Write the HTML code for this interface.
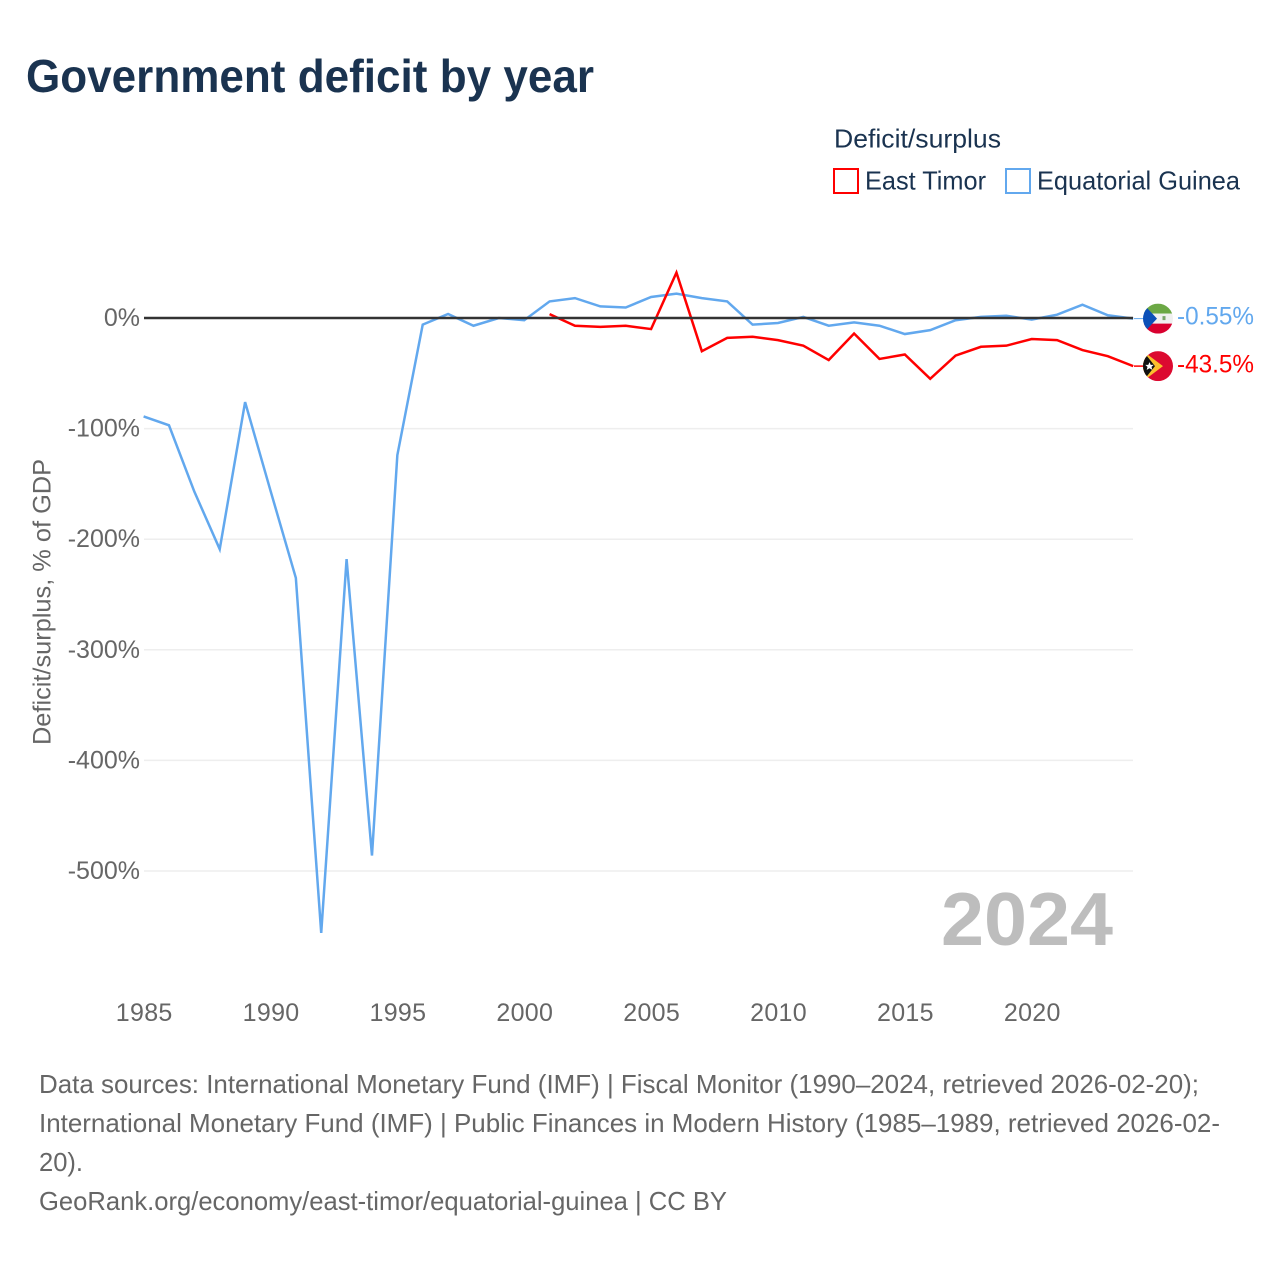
<!DOCTYPE html>
<html lang="en">
<head>
<meta charset="utf-8">
<title>Government deficit by year</title>
<style>
html,body{margin:0;padding:0;background:#fff}
svg{display:block}
text{font-family:"Liberation Sans",sans-serif}
</style>
</head>
<body>
<svg id="chart" xmlns="http://www.w3.org/2000/svg" width="1280" height="1280" viewBox="0 0 1280 1280">
  <defs>
    <clipPath id="flag-clip-gq"><circle cx="0" cy="0" r="15"/></clipPath>
    <clipPath id="flag-clip-tl"><circle cx="0" cy="0" r="15"/></clipPath>
  </defs>
  <rect x="0" y="0" width="1280" height="1280" fill="#fff"/>
  <text x="26" y="92" font-size="46" font-weight="700" fill="#1a3350" textLength="568" lengthAdjust="spacingAndGlyphs">Government deficit by year</text>

  <g font-size="26" fill="#1a3350">
    <text x="834" y="147.5" textLength="167" lengthAdjust="spacingAndGlyphs">Deficit/surplus</text>
    <g>
      <rect x="834" y="169" width="24" height="24" fill="#fff" stroke="#ff0000" stroke-width="2"/>
      <text x="865" y="189.5" textLength="121" lengthAdjust="spacingAndGlyphs">East Timor</text>
    </g>
    <g>
      <rect x="1006" y="169" width="24" height="24" fill="#fff" stroke="#62a8ee" stroke-width="2"/>
      <text x="1037" y="189.5" textLength="203" lengthAdjust="spacingAndGlyphs">Equatorial Guinea</text>
    </g>
  </g>

  <text transform="translate(50.5,602) rotate(-90)" text-anchor="middle" font-size="25" fill="#666" textLength="286" lengthAdjust="spacingAndGlyphs">Deficit/surplus, % of GDP</text>

  <g id="grid"></g>
  <g id="yticks"></g>
  <g id="xticks"></g>

  <text x="941" y="945" font-size="75" font-weight="700" fill="#bdbdbd" textLength="172" lengthAdjust="spacingAndGlyphs">2024</text>

  <g id="series"></g>
  <g id="zero"></g>
  <g id="ends"></g>

  <g font-size="26" fill="#666">
    <text x="39" y="1093" textLength="1160" lengthAdjust="spacingAndGlyphs">Data sources: International Monetary Fund (IMF) | Fiscal Monitor (1990–2024, retrieved 2026-02-20);</text>
    <text x="39" y="1132" textLength="1181" lengthAdjust="spacingAndGlyphs">International Monetary Fund (IMF) | Public Finances in Modern History (1985–1989, retrieved 2026-02-</text>
    <text x="39" y="1171" textLength="44" lengthAdjust="spacingAndGlyphs">20).</text>
    <text x="39" y="1210" textLength="688" lengthAdjust="spacingAndGlyphs">GeoRank.org/economy/east-timor/equatorial-guinea | CC BY</text>
  </g>
</svg>
<script>
var years = [1985,1986,1987,1988,1989,1990,1991,1992,1993,1994,1995,1996,1997,1998,1999,2000,2001,2002,2003,2004,2005,2006,2007,2008,2009,2010,2011,2012,2013,2014,2015,2016,2017,2018,2019,2020,2021,2022,2023,2024];
var equatorialGuinea = [-89,-97,-157,-209,-76,-156,-235,-556,-218,-486,-124,-6,3.6,-7,0,-2,15,18,10.5,9.5,19,22,18,15,-6,-4.5,1,-7,-4,-7,-14.5,-11,-2,1,2,-1.5,3,12,2.5,-0.55];
var eastTimorYears = [2001,2002,2003,2004,2005,2006,2007,2008,2009,2010,2011,2012,2013,2014,2015,2016,2017,2018,2019,2020,2021,2022,2023,2024];
var eastTimor = [3.5,-7,-8,-7,-10,41,-30,-18,-17,-20,-25,-38,-14,-37,-33,-55,-34,-26,-25,-19,-20,-29,-34.5,-43.5];
var yTickValues = [0,-100,-200,-300,-400,-500];
var yTickLabels = ["0%","-100%","-200%","-300%","-400%","-500%"];
var xTickValues = [1985,1990,1995,2000,2005,2010,2015,2020];
var guineaLabel = "-0.55%";
var timorLabel = "-43.5%";

var NS = "http://www.w3.org/2000/svg";
function xScale(year){ return 143.6 + (year - 1985) * (1133.2 - 143.6) / 39; }
function yScale(value){ return 318 - value * 1.106; }
function make(tag, attrs, parent){
  var el = document.createElementNS(NS, tag);
  for (var k in attrs) el.setAttribute(k, attrs[k]);
  parent.appendChild(el);
  return el;
}
function pointsFor(xs, ys){
  return xs.map(function(d, i){ return xScale(d).toFixed(2) + "," + yScale(ys[i]).toFixed(2); }).join(" ");
}

var grid = document.getElementById("grid");
var yticks = document.getElementById("yticks");
yTickValues.forEach(function(v, i){
  if (v !== 0) {
    var gl = make("line", {x1:144, x2:1133, y1:yScale(v), y2:yScale(v), stroke:"#eeeeee", "stroke-width":1.5}, grid);
    
    
  }
  var t = make("text", {x:140, y:yScale(v) + 8, "text-anchor":"end", "font-size":25, fill:"#666"}, yticks);
  
  
  t.textContent = yTickLabels[i];
});

var xticks = document.getElementById("xticks");
xTickValues.forEach(function(v){
  var t = make("text", {x:xScale(v) + 0.6, y:1021, "text-anchor":"middle", "font-size":25, "letter-spacing":"0.3", fill:"#666"}, xticks);
  
  
  t.textContent = v;
});

var series = document.getElementById("series");
var guineaLine = make("polyline", {points:pointsFor(years, equatorialGuinea), fill:"none", stroke:"#62a8ee", "stroke-width":2.5, "stroke-linejoin":"miter"}, series);


var timorLine = make("polyline", {points:pointsFor(eastTimorYears, eastTimor), fill:"none", stroke:"#ff0000", "stroke-width":2.5, "stroke-linejoin":"miter"}, series);



var zero = document.getElementById("zero");
var zeroLine = make("line", {x1:144, x2:1133, y1:yScale(0), y2:yScale(0), stroke:"#333333", "stroke-width":2.5}, zero);



var ends = document.getElementById("ends");
var gy = yScale(equatorialGuinea[equatorialGuinea.length - 1]);
var ty = yScale(eastTimor[eastTimor.length - 1]);

var gc = make("line", {x1:1134, x2:1143, y1:gy, y2:gy, stroke:"#62a8ee", "stroke-width":1}, ends);


var tc = make("line", {x1:1134, x2:1143, y1:ty, y2:ty, stroke:"#ff0000", "stroke-width":1.5}, ends);



var gFlag = make("g", {transform:"translate(1158," + gy + ")", "clip-path":"url(#flag-clip-gq)"}, ends);


make("rect", {x:-15, y:-15, width:30, height:10, fill:"#6ca845"}, gFlag);
make("rect", {x:-15, y:-5, width:30, height:10, fill:"#f0f0f0"}, gFlag);
make("rect", {x:-15, y:5, width:30, height:10, fill:"#d9002f"}, gFlag);
make("polygon", {points:"-15,-15 -15,15 -1,0", fill:"#0b50b8"}, gFlag);
make("rect", {x:4.5, y:-2.5, width:3, height:4, fill:"#7aa56a"}, gFlag);

var tFlag = make("g", {transform:"translate(1158," + ty + ")", "clip-path":"url(#flag-clip-tl)"}, ends);


make("rect", {x:-15, y:-15, width:30, height:30, fill:"#dc0a30"}, tFlag);
make("polygon", {points:"-15,-15 5,0 -15,15", fill:"#fbc02d"}, tFlag);
make("polygon", {points:"-15,-15 -3,0 -15,15", fill:"#111111"}, tFlag);
make("polygon", {points:"-8.5,-4 -7.3,-1.2 -4.3,-1.2 -6.5,0.8 -5.7,3.8 -8.5,2.2 -11.3,3.8 -10.5,0.8 -12.7,-1.2 -9.7,-1.2", fill:"#ffffff"}, tFlag);

var gl2 = make("text", {x:1177, y:gy + 6, "font-size":25, fill:"#62a8ee", textLength:77, lengthAdjust:"spacingAndGlyphs"}, ends);


gl2.textContent = guineaLabel;
var tl2 = make("text", {x:1177, y:ty + 6.5, "font-size":25, fill:"#ff0000", textLength:77, lengthAdjust:"spacingAndGlyphs"}, ends);


tl2.textContent = timorLabel;
</script>
</body>
</html>
